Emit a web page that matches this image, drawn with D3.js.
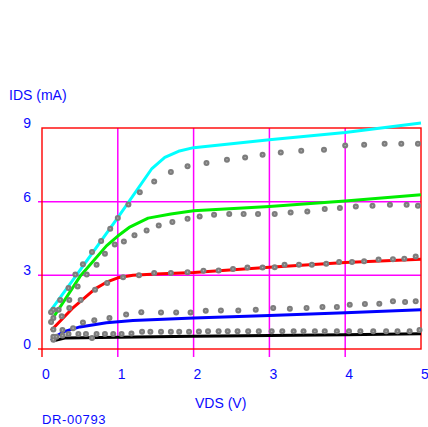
<!DOCTYPE html>
<html><head><meta charset="utf-8">
<script src="https://cdn.jsdelivr.net/npm/d3@7"></script>
<style>html,body{margin:0;padding:0;background:#fff;}svg{display:block;}</style>
</head><body>
<script>
// ---- data ----
const xTicks = [0, 1, 2, 3, 4, 5];
const yTicks = [0, 3, 6, 9];
const xTitle = "VDS (V)";
const yTitle = "IDS (mA)";
const footnote = "DR-00793";

// simulated curves [VDS, IDS]
const simCyan  = [[0.1,1.5],[0.5,3.2],[1.0,5.35],[1.45,7.35],[1.62,7.8],[1.8,8.05],[2.0,8.2],[3.0,8.52],[4.0,8.82],[5.0,9.2]];
const simGreen = [[0.1,1.05],[0.5,2.95],[0.85,4.2],[1.0,4.6],[1.15,4.95],[1.4,5.33],[1.7,5.5],[2.0,5.63],[3.0,5.8],[4.0,6.03],[5.0,6.28]];
const simRed   = [[0.12,0.75],[0.4,1.65],[0.7,2.45],[0.85,2.72],[1.0,2.9],[1.2,3.0],[1.5,3.05],[2.0,3.12],[3.0,3.33],[4.0,3.52],[5.0,3.66]];
const simBlue  = [[0.12,0.35],[0.2,0.55],[0.3,0.72],[0.5,0.9],[0.85,1.07],[1.2,1.16],[2.0,1.26],[3.0,1.36],[4.0,1.48],[5.0,1.6]];
const simBlack = [[0.15,0.33],[0.3,0.45],[1.0,0.48],[2.0,0.52],[3.0,0.55],[4.0,0.58],[5.0,0.62]];

// measured points [VDS, IDS]
const measA = [[0.12,1.5],[0.15,1.6],[0.24,2.0],[0.35,2.48],[0.44,3.03],[0.54,3.45],[0.66,3.95],[0.78,4.4],[0.9,4.9],[1.0,5.33],[1.14,5.88],[1.29,6.38],[1.48,6.82],[1.7,7.21],[1.92,7.44],[2.17,7.57],[2.44,7.71],[2.68,7.8],[2.91,7.91],[3.15,8.0],[3.42,8.07],[3.72,8.11],[4.0,8.29],[4.25,8.32],[4.52,8.36],[4.74,8.36],[4.96,8.36]];
const measB = [[0.12,1.1],[0.15,1.26],[0.22,1.6],[0.36,2.0],[0.47,2.55],[0.59,3.03],[0.72,3.43],[0.83,3.88],[0.96,4.26],[1.08,4.38],[1.22,4.63],[1.38,4.83],[1.54,5.03],[1.72,5.17],[1.92,5.3],[2.08,5.4],[2.27,5.47],[2.47,5.5],[2.66,5.5],[2.85,5.5],[3.07,5.5],[3.28,5.56],[3.5,5.6],[3.73,5.7],[3.93,5.74],[4.14,5.8],[4.36,5.83],[4.59,5.87],[4.81,5.87],[4.96,5.83]];
const measC = [[0.15,0.79],[0.26,1.33],[0.36,1.67],[0.51,2.0],[0.7,2.41],[0.86,2.69],[1.07,2.92],[1.28,3.0],[1.48,3.09],[1.7,3.1],[1.92,3.13],[2.13,3.19],[2.33,3.2],[2.52,3.26],[2.71,3.32],[2.91,3.32],[3.07,3.33],[3.2,3.43],[3.39,3.43],[3.56,3.43],[3.75,3.47],[3.92,3.54],[4.09,3.54],[4.25,3.57],[4.44,3.64],[4.63,3.66],[4.78,3.68],[4.93,3.77]];
const measD = [[0.15,0.5],[0.27,0.77],[0.41,0.85],[0.54,1.08],[0.69,1.17],[0.89,1.26],[1.11,1.4],[1.31,1.5],[1.57,1.49],[1.77,1.49],[1.96,1.49],[2.16,1.56],[2.36,1.57],[2.59,1.57],[2.82,1.6],[3.05,1.67],[3.27,1.64],[3.49,1.67],[3.7,1.71],[3.89,1.71],[4.06,1.8],[4.26,1.83],[4.45,1.84],[4.63,1.94],[4.79,1.91],[4.93,1.94]];
const measE = [[0.15,0.38],[0.19,0.5],[0.27,0.55],[0.35,0.61],[0.48,0.61],[0.58,0.61],[0.66,0.45],[0.72,0.61],[0.83,0.61],[0.94,0.61],[1.05,0.61],[1.18,0.63],[1.32,0.7],[1.43,0.7],[1.57,0.7],[1.7,0.7],[1.81,0.7],[1.94,0.7],[2.07,0.71],[2.19,0.72],[2.33,0.72],[2.45,0.72],[2.58,0.72],[2.72,0.72],[2.86,0.72],[3.03,0.72],[3.17,0.72],[3.32,0.72],[3.45,0.72],[3.6,0.72],[3.73,0.72],[3.89,0.72],[4.05,0.72],[4.2,0.72],[4.37,0.72],[4.54,0.72],[4.69,0.72],[4.85,0.72],[4.98,0.77]];

const sims = [
  {pts: simBlack, color: "#000000"},
  {pts: simBlue,  color: "#0000ff"},
  {pts: simRed,   color: "#ff0000"},
  {pts: simGreen, color: "#00ee00"},
  {pts: simCyan,  color: "#00ffff"}
];
const meas = [measA, measB, measC, measD, measE];

// ---- layout ----
const W = 428, H = 427;
const L = 42, R = 421, T = 128, B = 349;
const x = d3.scaleLinear().domain([0, 5]).range([L, R]);
const y = d3.scaleLinear().domain([0, 9]).range([B, T]);
const textColor = "#0a0aff";
const font = "Liberation Sans, Arial, sans-serif";
const gridColor = "#ff00ff";
const frameColor = "#ff0000";

const svg = d3.select("body").append("svg").attr("width", W).attr("height", H);

// grid
svg.append("g").selectAll("line").data(xTicks.filter(v => v > 0 && v < 5)).join("line")
  .attr("x1", d => x(d)).attr("x2", d => x(d)).attr("y1", T).attr("y2", B + 8)
  .attr("stroke", gridColor).attr("stroke-width", 1.5);
svg.append("g").selectAll("line").data(yTicks.filter(v => v > 0 && v < 9)).join("line")
  .attr("x1", L - 4).attr("x2", R).attr("y1", d => y(d)).attr("y2", d => y(d))
  .attr("stroke", gridColor).attr("stroke-width", 1.5);

// frame
svg.append("rect").attr("x", L).attr("y", T).attr("width", R - L).attr("height", B - T)
  .attr("fill", "none").attr("stroke", frameColor).attr("stroke-width", 1.4);
svg.append("line").attr("x1", L).attr("x2", L).attr("y1", B).attr("y2", B + 8)
  .attr("stroke", frameColor).attr("stroke-width", 1.4);
svg.append("line").attr("x1", L - 4).attr("x2", L).attr("y1", B).attr("y2", B)
  .attr("stroke", frameColor).attr("stroke-width", 1.4);

// tick labels
svg.append("g").selectAll("text").data(xTicks).join("text")
  .attr("x", d => x(d)).attr("y", 379).attr("text-anchor", "start")
  .attr("font-family", font).attr("font-size", 14).attr("fill", textColor)
  .text(d => d);
svg.append("g").selectAll("text").data(yTicks).join("text")
  .attr("x", 31).attr("y", d => y(d)).attr("text-anchor", "end")
  .attr("font-family", font).attr("font-size", 14).attr("fill", textColor)
  .text(d => d);

// titles
svg.append("text").attr("x", 9).attr("y", 100).attr("font-family", font).attr("font-size", 14)
  .attr("fill", textColor).text(yTitle);
svg.append("text").attr("x", 195).attr("y", 408).attr("font-family", font).attr("font-size", 14)
  .attr("fill", textColor).text(xTitle);
svg.append("text").attr("x", 42).attr("y", 424).attr("font-family", font).attr("font-size", 13)
  .attr("letter-spacing", 0.6).attr("fill", textColor).text(footnote);

// simulated curves
const line = d3.line().x(d => x(d[0])).y(d => y(d[1])).curve(d3.curveLinear);
svg.append("g").selectAll("path").data(sims).join("path")
  .attr("d", d => line(d.pts)).attr("fill", "none")
  .attr("stroke", d => d.color).attr("stroke-width", 3).attr("stroke-linejoin", "round");

// measured points
const allPts = meas.flat();
const g = svg.append("g");
g.selectAll("circle.m").data(allPts).join("circle").attr("class", "m")
  .attr("cx", d => x(d[0])).attr("cy", d => y(d[1])).attr("r", 3)
  .attr("fill", "#7d7d7d");
g.selectAll("circle.c").data(allPts).join("circle").attr("class", "c")
  .attr("cx", d => x(d[0])).attr("cy", d => y(d[1])).attr("r", 0.8)
  .attr("fill", "#b0b0b0");
</script>
</body></html>
